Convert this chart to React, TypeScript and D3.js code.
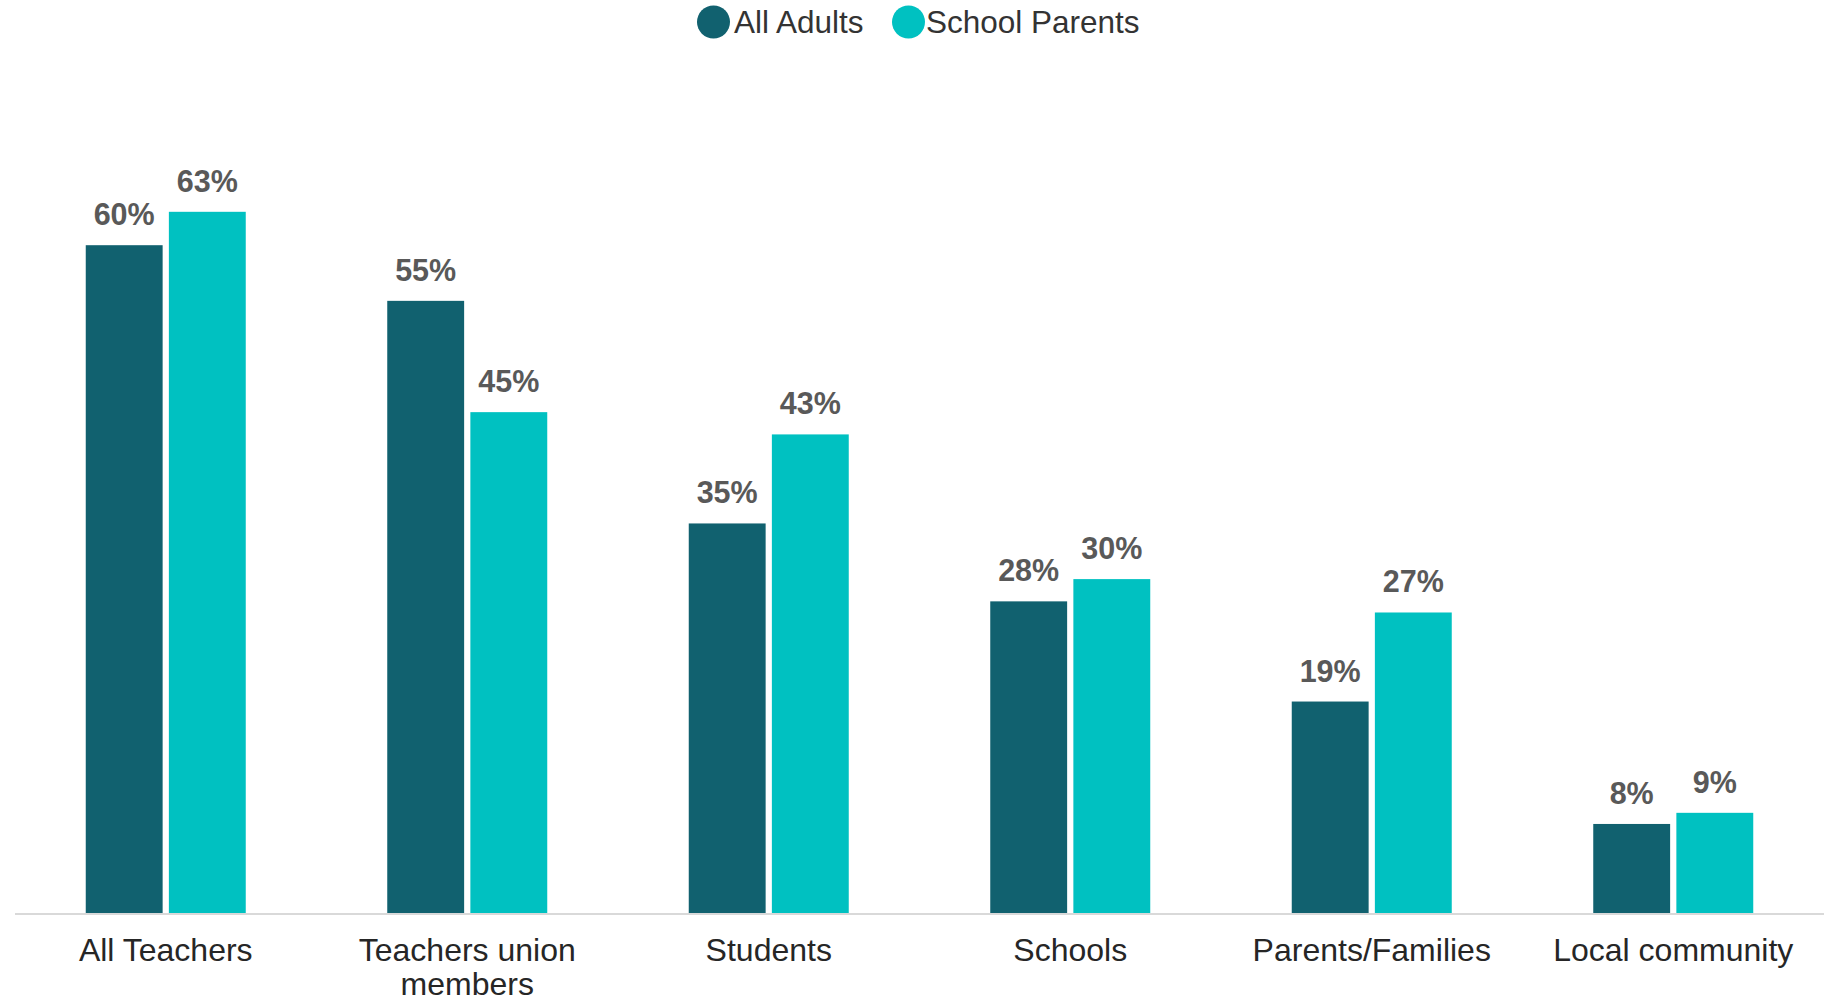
import React from "react";
import * as d3 from "d3";

const categories = ["All Teachers", "Teachers union members", "Students", "Schools", "Parents/Families", "Local community"];
const categoryLines = [["All Teachers"], ["Teachers union", "members"], ["Students"], ["Schools"], ["Parents/Families"], ["Local community"]];
const seriesNames = ["All Adults", "School Parents"];
const allAdults = [60, 55, 35, 28, 19, 8];
const schoolParents = [63, 45, 43, 30, 27, 9];
const colors = ["#11616F", "#00C1C1"];

const W = 1834;
const H = 1002;
const FONT = "'Liberation Sans', Arial, sans-serif";

export default function App() {
  const baseline = 913;
  const x0 = d3.scaleBand<string>().domain(categories).range([15, 1824]).padding(0);
  const groupW = 160;
  const x1 = d3.scaleBand<string>().domain(seriesNames).range([0, groupW]).paddingInner(0.075);
  const y = d3.scaleLinear().domain([0, 70]).range([baseline, baseline - 70 * 11.13]);
  const values = [allAdults, schoolParents];

  return (
    <svg width={W} height={H} style={{ position: "absolute", left: 0, top: 0, display: "block" }} fontFamily={FONT}>
      <rect width={W} height={H} fill="#fff" />
      {categories.map((c, i) => {
        const gx = (x0(c) as number) + (x0.bandwidth() - groupW) / 2;
        return (
          <g key={c}>
            {seriesNames.map((s, si) => {
              const v = values[si][i];
              const bx = gx + (x1(s) as number);
              return (
                <g key={s}>
                  <rect x={bx} y={y(v)} width={x1.bandwidth()} height={baseline - y(v)} fill={colors[si]} />
                  <text x={bx + x1.bandwidth() / 2} y={y(v) - 20} textAnchor="middle" fontSize={30.5} fontWeight="bold" fill="#595959">
                    {v}%
                  </text>
                </g>
              );
            })}
            {categoryLines[i].map((ln, li) => (
              <text key={li} x={(x0(c) as number) + x0.bandwidth() / 2} y={961 + li * 34} textAnchor="middle" fontSize={32} fill="#262626">
                {ln}
              </text>
            ))}
          </g>
        );
      })}
      <line x1={15} x2={1824} y1={baseline + 1} y2={baseline + 1} stroke="#D9D9D9" strokeWidth={2} />
      <g>
        <circle cx={713.5} cy={22} r={16.5} fill={colors[0]} />
        <text x={734} y={33} fontSize={31.5} fill="#333">{seriesNames[0]}</text>
        <circle cx={908.5} cy={22} r={16.5} fill={colors[1]} />
        <text x={926} y={33} fontSize={31.5} fill="#333">{seriesNames[1]}</text>
      </g>
    </svg>
  );
}
